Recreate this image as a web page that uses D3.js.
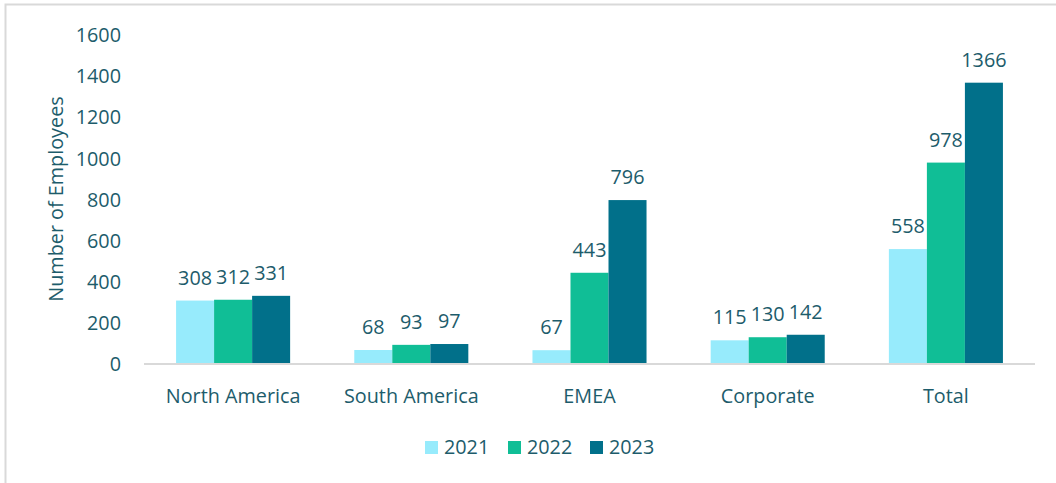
<!DOCTYPE html>
<html>
<head>
<meta charset="utf-8">
<script src="https://cdn.jsdelivr.net/npm/d3@7"></script>
<style>
  html, body { margin: 0; padding: 0; background: #ffffff; }
  svg { display: block; font-family: "Open Sans", "Noto Sans", sans-serif; }
</style>
</head>
<body>
<svg id="chart" width="1056" height="483"></svg>
<script>
// Headcount by region, 2021–2023
const categories = ["North America", "South America", "EMEA", "Corporate", "Total"];
const seriesNames = ["2021", "2022", "2023"];
const values2021 = [308, 68, 67, 115, 558];
const values2022 = [312, 93, 443, 130, 978];
const values2023 = [331, 97, 796, 142, 1366];
const yTicks = [0, 200, 400, 600, 800, 1000, 1200, 1400, 1600];
const colors = ["#97ebfc", "#10be96", "#01708a"];

const seriesValues = [values2021, values2022, values2023];
const rows = categories.map((c, i) => ({
  category: c,
  bars: seriesNames.map((s, j) => ({ series: s, value: seriesValues[j][i] }))
}));

const svg = d3.select("#chart");
const textColor = "#1d5c6b";
const fontSize = 19.8;

// chart frame
svg.append("rect")
  .attr("x", 5.5).attr("y", 4.5)
  .attr("width", 1100).attr("height", 600)
  .attr("fill", "none")
  .attr("stroke", "#d9d9d9")
  .attr("stroke-width", 2);

const plot = { left: 144, right: 1035, top: 34.5, bottom: 364 };

const x0 = d3.scaleBand()
  .domain(categories)
  .range([plot.left, plot.right])
  .paddingInner(0.36)
  .paddingOuter(0.18);

const x1 = d3.scaleBand()
  .domain(seriesNames)
  .range([0, x0.bandwidth()]);

const y = d3.scaleLinear()
  .domain([0, 1600])
  .range([plot.bottom, plot.top]);

const color = d3.scaleOrdinal().domain(seriesNames).range(colors);

// y axis (labels only)
const yAxis = svg.append("g")
  .attr("transform", `translate(${plot.left - 23},0)`)
  .call(d3.axisLeft(y).tickValues(yTicks).tickFormat(d3.format("d")).tickSize(0).tickPadding(0))
  .call(g => g.select(".domain").remove());
yAxis.selectAll("text")
  .attr("fill", textColor)
  .attr("font-size", fontSize)
  .attr("font-family", "Open Sans, Noto Sans, sans-serif")
  .attr("dy", "0.35em");

// bars
const groups = svg.append("g")
  .selectAll("g")
  .data(rows)
  .join("g")
  .attr("transform", d => `translate(${x0(d.category)},0)`);

groups.selectAll("rect")
  .data(d => d.bars)
  .join("rect")
  .attr("x", d => x1(d.series))
  .attr("y", d => y(d.value))
  .attr("width", x1.bandwidth())
  .attr("height", d => y(0) - y(d.value))
  .attr("fill", d => color(d.series));

// value labels
groups.selectAll("text")
  .data(d => d.bars)
  .join("text")
  .attr("x", d => x1(d.series) + x1.bandwidth() / 2)
  .attr("y", d => y(d.value) - 16)
  .attr("text-anchor", "middle")
  .attr("fill", textColor)
  .attr("font-size", fontSize)
  .text(d => d.value);

// x axis
const xAxis = svg.append("g")
  .attr("transform", `translate(0,${plot.bottom})`)
  .call(d3.axisBottom(x0).tickSize(0).tickPadding(0));
xAxis.select(".domain")
  .attr("stroke", "#d9d9d9")
  .attr("stroke-width", 2)
  .attr("d", `M${plot.left},0H${plot.right}`);
xAxis.selectAll("text")
  .attr("fill", textColor)
  .attr("font-size", fontSize)
  .attr("font-family", "Open Sans, Noto Sans, sans-serif")
  .attr("dy", 0)
  .attr("y", 39);

// y axis title
svg.append("text")
  .attr("transform", "translate(56,199) rotate(-90)")
  .attr("text-anchor", "middle")
  .attr("dy", "0.35em")
  .attr("fill", textColor)
  .attr("font-size", fontSize)
  .text("Number of Employees");

// legend
const legendX = [425, 508, 590];
const legend = svg.append("g")
  .selectAll("g")
  .data(seriesNames)
  .join("g")
  .attr("transform", (d, i) => `translate(${legendX[i]},441)`);
legend.append("rect")
  .attr("width", 13).attr("height", 13)
  .attr("fill", d => color(d));
legend.append("text")
  .attr("x", 19).attr("y", 13)
  .attr("fill", textColor)
  .attr("font-size", fontSize)
  .text(d => d);
</script>
</body>
</html>
